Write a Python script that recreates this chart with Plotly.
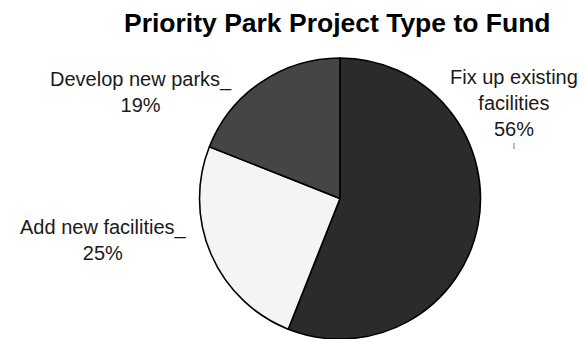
import plotly.graph_objects as go

# Survey result: which park project type should be funded first
project_types = ["Fix up existing facilities", "Add new facilities", "Develop new parks"]
shares = [56, 25, 19]
slice_colors = ["#2d2a2b", "#f4f4f4", "#454547"]

# Label text as printed beside each slice
label_texts = [
    "Fix up existing<br>facilities<br>{}%".format(shares[0]),
    "Add new facilities_<br>{}%".format(shares[1]),
    "Develop new parks_<br>{}%".format(shares[2]),
]
label_pos = [(514, 103), (103, 240), (141, 92)]  # pixel centres (x, y from top)

W, H = 584, 339

fig = go.Figure(
    go.Pie(
        labels=project_types,
        values=shares,
        sort=False,
        direction="clockwise",
        rotation=0,
        marker=dict(colors=slice_colors, line=dict(color="#000000", width=1.6)),
        textinfo="none",
        hoverinfo="label+percent",
        showlegend=False,
        domain=dict(x=[198 / W, 482 / W], y=[0, 281 / H]),
    )
)

annotations = [
    dict(
        text="<b>Priority Park Project Type to Fund</b>",
        x=337 / W, y=1 - 23 / H, xref="paper", yref="paper",
        showarrow=False, font=dict(size=26.5, color="#000000"),
        xanchor="center", yanchor="middle",
    )
]
for txt, (px, py) in zip(label_texts, label_pos):
    annotations.append(
        dict(
            text=txt, x=px / W, y=1 - py / H, xref="paper", yref="paper",
            showarrow=False, align="center",
            font=dict(size=20, color="#1a1a1a"),
            xanchor="center", yanchor="middle",
        )
    )

fig.update_layout(
    width=W, height=H,
    margin=dict(l=0, r=0, t=0, b=0),
    paper_bgcolor="#ffffff", plot_bgcolor="#ffffff",
    font=dict(family="Liberation Sans, Arial, sans-serif"),
    annotations=annotations,
    # short leader tick under the 56% label
    shapes=[
        dict(type="line", xref="paper", yref="paper",
             x0=514 / W, x1=514 / W, y0=1 - 143 / H, y1=1 - 149 / H,
             line=dict(color="#777777", width=1))
    ],
)

fig.write_html("out.html")
